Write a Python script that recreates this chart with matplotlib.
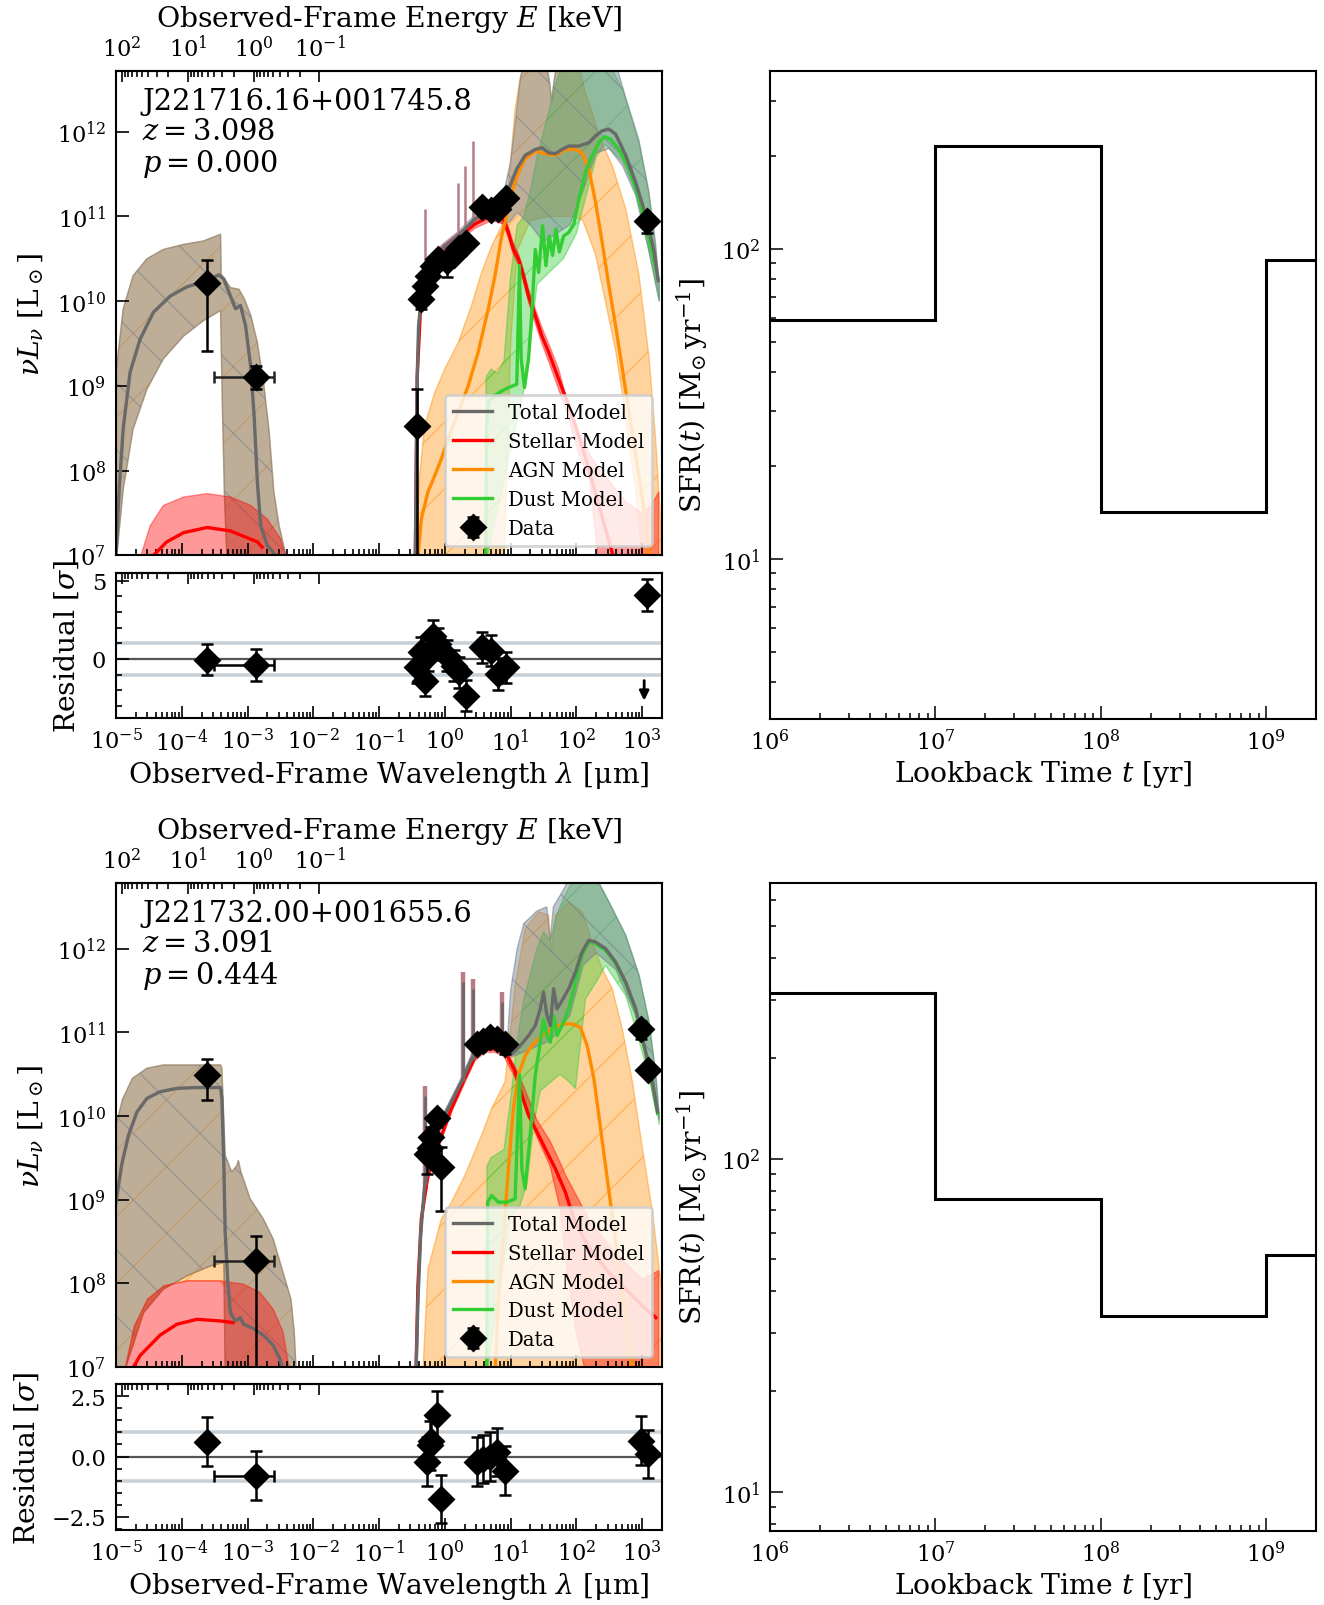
import numpy as np
import matplotlib
matplotlib.use("Agg")
import matplotlib.pyplot as plt
from matplotlib.ticker import LogLocator, MultipleLocator, NullFormatter, NullLocator

plt.rcParams["font.family"] = "DejaVu Serif"
plt.rcParams["mathtext.fontset"] = "dejavuserif"
plt.rcParams["hatch.linewidth"] = 0.45
plt.rcParams["axes.linewidth"] = 0.75

# all SED values are log10(wavelength / um) and log10(nuLnu / Lsun)

# ---------------- source 1 ----------------
NAME1, Z1, P1 = "J221716.16+001745.8", "3.098", "0.000"

S1_XR_TOT_LAM = [-5.0, -4.95, -4.89, -4.786, -4.634, -4.43, -4.176, -3.92, -3.615, -3.438, -3.36, -3.26,
                 -3.183, -3.107, -3.03, -2.954, -2.90, -2.85, -2.80, -2.70, -2.55]
S1_XR_TOT_L = [7.0, 7.8, 8.5, 9.16, 9.55, 9.87, 10.06, 10.17, 10.24, 10.31, 10.26, 10.06,
               9.91, 9.95, 9.71, 9.24, 8.65, 7.86, 7.35, 7.12, 6.98]
S1_XR_BAND_UP_LAM = [-5.0, -4.89, -4.74, -4.53, -4.28, -3.97, -3.67, -3.41, -3.40, -3.26, -3.13, -3.05,
                     -2.95, -2.85, -2.75, -2.67, -2.60, -2.52, -2.44, -2.37]
S1_XR_BAND_UP_L = [9.16, 9.91, 10.30, 10.50, 10.61, 10.67, 10.71, 10.79, 10.32, 10.16, 10.14, 10.03,
                   9.83, 9.51, 9.00, 8.45, 7.75, 7.35, 7.08, 6.90]
S1_XR_BAND_LO_LAM = [-2.37, -3.31, -3.35, -3.385, -3.41, -3.67, -3.97, -4.28, -4.53, -4.74, -4.89, -5.0]
S1_XR_BAND_LO_L = [6.90, 6.90, 7.67, 8.85, 9.89, 9.77, 9.59, 9.32, 8.96, 8.49, 7.78, 6.90]
S1_XR_STEL_LAM = [-4.50, -4.43, -4.23, -3.97, -3.615, -3.26, -2.85, -2.78]
S1_XR_STEL_L = [6.90, 7.00, 7.16, 7.27, 7.33, 7.29, 7.16, 7.10]
S1_XR_SBAND_UP_LAM = [-4.66, -4.48, -4.28, -3.97, -3.615, -3.26, -2.95, -2.70, -2.50, -2.39]
S1_XR_SBAND_UP_L = [6.90, 7.35, 7.59, 7.69, 7.73, 7.69, 7.59, 7.43, 7.20, 6.90]
S1_XR_SBAND_LO_LAM = [-2.39, -4.66]
S1_XR_SBAND_LO_L = [6.90, 6.90]

S1_TOT_LAM = [-0.45, -0.435, -0.42, -0.40, -0.369, -0.308, -0.206, -0.053, 0.202, 0.457, 0.711, 0.915,
              0.991, 1.093, 1.22, 1.374, 1.475, 1.577, 1.679, 1.781, 1.883, 2.036, 2.189, 2.29,
              2.392, 2.494, 2.596, 2.749, 2.902, 3.055, 3.182, 3.243]
S1_TOT_L = [6.90, 8.14, 9.12, 9.71, 9.95, 10.18, 10.42, 10.61, 10.77, 10.97, 11.09, 11.20,
            11.36, 11.56, 11.72, 11.79, 11.81, 11.75, 11.74, 11.79, 11.83, 11.83, 11.87, 11.95,
            12.01, 12.03, 11.97, 11.72, 11.40, 11.01, 10.58, 10.24]
S1_TBAND_UP_LAM = [-0.45, -0.435, -0.42, -0.40, -0.369, -0.308, -0.206, -0.053, 0.202, 0.457, 0.711, 0.90,
                   1.00, 1.10, 1.15, 1.20, 1.55, 1.60, 1.62, 1.66, 1.70, 2.60, 2.75, 2.95, 3.10, 3.20, 3.26]
S1_TBAND_UP_L = [6.90, 8.25, 9.22, 9.78, 10.00, 10.23, 10.47, 10.66, 10.82, 11.02, 11.14, 11.30,
                 11.65, 12.30, 12.65, 12.80, 12.80, 12.55, 12.35, 12.60, 12.80, 12.80, 12.40, 11.90, 11.30, 10.70, 10.20]
S1_TBAND_LO_LAM = [3.26, 3.10, 2.90, 2.70, 2.50, 2.30, 2.10, 1.90, 1.70, 1.50, 1.30, 1.10, 1.00, 0.90,
                   0.711, 0.457, 0.202, -0.053, -0.206, -0.308, -0.369, -0.40, -0.42, -0.435, -0.45]
S1_TBAND_LO_L = [10.00, 10.60, 11.25, 11.60, 11.80, 11.75, 11.30, 10.90, 10.80, 10.70, 10.90, 11.05, 10.95, 10.90,
                 11.03, 10.92, 10.72, 10.57, 10.37, 10.13, 9.90, 9.64, 9.02, 8.03, 6.90]
S1_STEL_LAM = [-0.45, -0.42, -0.369, -0.206, -0.053, 0.202, 0.457, 0.711, 0.89, 0.966, 1.042, 1.119,
               1.195, 1.272, 1.374, 1.475, 1.577, 1.73, 1.883, 2.036, 2.189, 2.341, 2.443, 2.571]
S1_STEL_L = [6.90, 9.12, 9.93, 10.40, 10.60, 10.75, 10.91, 11.01, 10.97, 10.81, 10.61, 10.50,
             10.30, 10.06, 9.83, 9.59, 9.40, 9.08, 8.77, 8.41, 8.02, 7.59, 7.31, 6.96]
S1_SBAND_UP_LAM = [-0.45, -0.42, -0.369, -0.206, -0.053, 0.202, 0.457, 0.711, 0.89, 0.966, 1.042, 1.119,
                   1.195, 1.272, 1.374, 1.475, 1.577, 1.73, 1.934, 2.24, 2.75, 3.00, 3.15, 3.25]
S1_SBAND_UP_L = [6.90, 9.20, 9.98, 10.45, 10.64, 10.80, 10.96, 11.06, 11.02, 10.87, 10.68, 10.56,
                 10.37, 10.14, 9.91, 9.69, 9.50, 9.20, 8.60, 8.14, 7.63, 7.50, 7.60, 7.75]
S1_SBAND_LO_LAM = [3.25, 2.34, 2.20, 2.036, 1.883, 1.73, 1.577, 1.475, 1.374, 1.272, 1.195, 1.119,
                   1.042, 0.966, 0.89, 0.711, 0.457, 0.202, -0.053, -0.206, -0.369, -0.42, -0.45]
S1_SBAND_LO_L = [6.90, 6.90, 7.90, 8.20, 8.62, 8.96, 9.29, 9.50, 9.74, 9.99, 10.23, 10.43,
                 10.55, 10.75, 10.91, 10.95, 10.86, 10.70, 10.55, 10.35, 9.88, 9.05, 6.90]
S1_AGN_LAM = [-0.42, -0.358, -0.257, -0.155, -0.053, 0.049, 0.202, 0.355, 0.507, 0.66, 0.762, 0.864,
              0.94, 1.017, 1.119, 1.22, 1.374, 1.526, 1.679, 1.832, 1.985, 2.087, 2.189, 2.29,
              2.392, 2.494, 2.596, 2.698, 2.80, 2.902, 3.004, 3.116]
S1_AGN_L = [6.90, 7.43, 7.75, 7.94, 8.14, 8.37, 8.69, 9.00, 9.40, 9.91, 10.30, 10.77,
            11.01, 11.28, 11.52, 11.68, 11.77, 11.74, 11.72, 11.79, 11.79, 11.75, 11.56, 11.17,
            10.69, 10.18, 9.71, 9.20, 8.69, 8.18, 7.67, 6.95]
S1_ABAND_UP_LAM = [-0.45, -0.42, -0.384, -0.308, -0.155, -0.002, 0.202, 0.406, 0.559, 0.711, 0.864, 0.966,
                   1.068, 1.144, 1.22, 1.55, 1.577, 1.618, 1.669, 1.70, 2.036, 2.138, 2.24, 2.34,
                   2.545, 2.749, 2.953, 3.106, 3.207, 3.284]
S1_ABAND_UP_L = [6.90, 7.35, 7.94, 8.53, 8.92, 9.20, 9.51, 9.95, 10.34, 10.65, 10.89, 11.36,
                 12.27, 12.62, 12.80, 12.80, 12.62, 12.38, 12.62, 12.80, 12.80, 12.46, 12.23, 11.95,
                 11.60, 11.09, 10.30, 9.32, 8.34, 7.35]
S1_ABAND_LO_LAM = [3.284, 3.00, 2.90, 2.80, 2.70, 2.60, 2.44, 2.29, 2.10, 1.95, 1.60, 1.30, 1.10, 1.00, 0.90, -0.45]
S1_ABAND_LO_L = [6.90, 6.90, 7.80, 8.30, 8.90, 9.40, 10.00, 10.55, 10.95, 11.00, 11.00, 10.95, 10.60, 9.50, 6.90, 6.90]
S1_DUST_LAM = [0.62, 0.635, 0.66, 0.762, 0.864, 0.966, 1.093, 1.134, 1.16, 1.21, 1.272, 1.323,
               1.374, 1.425, 1.486, 1.536, 1.587, 1.638, 1.689, 1.74, 1.806, 1.883, 1.96, 2.036,
               2.138, 2.24, 2.341, 2.428, 2.52, 2.647, 2.80, 2.953, 3.106, 3.243]
S1_DUST_L = [6.90, 8.53, 8.81, 8.89, 8.94, 8.98, 9.02, 10.42, 9.32, 8.98, 9.32, 9.87,
             10.61, 10.34, 10.89, 10.42, 10.77, 10.54, 10.85, 10.58, 10.77, 10.81, 10.91, 11.20,
             11.52, 11.72, 11.87, 11.94, 11.91, 11.79, 11.56, 11.20, 10.73, 10.26]
S1_DBAND_UP_LAM = [0.62, 0.625, 0.70, 0.80, 0.90, 1.00, 1.10, 1.20, 1.30, 1.40, 1.50, 1.60,
                   1.70, 1.80, 2.00, 2.30, 2.50, 2.70, 2.75, 2.95, 3.10, 3.20, 3.26]
S1_DBAND_UP_L = [6.90, 9.10, 9.20, 9.15, 9.30, 10.30, 10.90, 11.00, 11.30, 11.70, 12.00, 12.30,
                 12.60, 12.80, 12.80, 12.80, 12.80, 12.50, 12.38, 11.87, 11.28, 10.65, 10.14]
S1_DBAND_LO_LAM = [3.26, 3.10, 2.90, 2.70, 2.50, 2.43, 2.30, 2.10, 2.00, 1.80, 1.60, 1.40, 1.30, 1.15, 1.10, 0.62]
S1_DBAND_LO_L = [10.00, 10.60, 11.30, 11.65, 11.80, 11.85, 11.70, 11.10, 10.80, 10.50, 10.35, 10.20, 9.50, 8.70, 8.60, 6.90]
S1_SPK_LAM = [-0.308, 0.202, 0.304, 0.43]
S1_SPK_LO = [10.18, 10.77, 10.85, 10.95]
S1_SPK_HI = [11.09, 11.40, 11.60, 11.89]

S1_DAT_LAM = [-3.615, -2.867, -0.43, -0.366, -0.304, -0.252, -0.174, -0.098, 0.03, 0.134, 0.211, 0.314,
              0.571, 0.699, 0.803, 0.931, 3.08]
S1_DAT_L = [10.21, 9.11, 8.53, 10.03, 10.18, 10.30, 10.42, 10.50, 10.47, 10.54, 10.63, 10.69,
            11.11, 11.07, 11.09, 11.22, 10.95]
S1_DAT_LO = [9.41, 8.96, 6.00, 9.91, 10.13, 10.26, 10.38, 10.46, 10.28, 10.49, 10.60, 10.66,
             11.08, 11.04, 11.06, 11.20, 10.81]
S1_DAT_HI = [10.48, 9.24, 8.96, 10.07, 10.22, 10.34, 10.45, 10.53, 10.55, 10.58, 10.67, 10.73,
             11.13, 11.09, 11.11, 11.25, 11.00]
S1_RES = [-0.04, -0.38, -0.53, 0.43, -1.38, 0.20, 1.49, 0.96, 0.20, -0.43, -0.85, -2.34,
          0.74, 0.53, -0.96, -0.53, 4.09]
S1_XE_LAM, S1_XE_L, S1_XE_RES = [-2.867], [9.11], [-0.38]
S1_XE_LO, S1_XE_HI = [-3.514], [-2.60]
S1_ARROW_LAM, S1_ARROW_FROM, S1_ARROW_TO = [3.03], [-1.38], [-2.66]

# ---------------- source 2 ----------------
NAME2, Z2, P2 = "J221732.00+001655.6", "3.091", "0.444"

S2_XR_TOT_LAM = [-5.0, -4.915, -4.81, -4.68, -4.53, -4.33, -4.076, -3.77, -3.41, -3.39, -3.36, -3.34,
                 -3.30, -3.26, -3.185, -3.11, -3.06, -2.91, -2.76, -2.61, -2.51, -2.46]
S2_XR_TOT_L = [8.97, 9.41, 9.77, 10.05, 10.21, 10.29, 10.33, 10.34, 10.34, 10.21, 9.41, 8.61,
               8.01, 7.65, 7.55, 7.59, 7.51, 7.46, 7.38, 7.26, 7.10, 6.95]
S2_XR_BAND_UP_LAM = [-5.0, -4.90, -4.75, -4.53, -4.28, -3.97, -3.67, -3.41, -3.39, -3.34, -3.24, -3.16,
                     -3.14, -3.10, -2.96, -2.76, -2.61, -2.46, -2.34, -2.29, -2.26]
S2_XR_BAND_UP_L = [9.89, 10.20, 10.45, 10.57, 10.61, 10.61, 10.61, 10.61, 10.57, 9.53, 9.33, 9.41,
                   9.47, 9.33, 9.01, 8.77, 8.53, 8.13, 7.81, 7.42, 6.95]
S2_XR_BAND_LO_LAM = [-2.26, -3.34, -3.36, -3.56, -3.92, -4.28, -4.58, -4.87, -5.0]
S2_XR_BAND_LO_L = [6.90, 6.90, 8.25, 8.21, 8.09, 7.93, 7.65, 6.95, 6.90]
S2_XR_ABAND_UP_LAM = [-4.87, -4.58, -4.28, -3.92, -3.56, -3.36, -3.34]
S2_XR_ABAND_UP_L = [6.95, 7.65, 7.93, 8.09, 8.21, 8.25, 7.95]
S2_XR_ABAND_LO_LAM = [-3.41, -3.92, -4.27, -4.52, -4.72, -4.87]
S2_XR_ABAND_LO_L = [8.03, 8.03, 7.97, 7.81, 7.49, 6.95]
S2_XR_STEL_LAM = [-4.80, -4.75, -4.63, -4.33, -4.076, -3.77, -3.41, -3.22]
S2_XR_STEL_L = [6.90, 6.98, 7.14, 7.38, 7.51, 7.57, 7.55, 7.53]
S2_XR_SBAND_UP_LAM = [-4.87, -4.72, -4.52, -4.27, -3.92, -3.41, -3.06, -2.81, -2.61, -2.46, -2.36]
S2_XR_SBAND_UP_L = [6.95, 7.49, 7.81, 7.97, 8.03, 8.03, 7.99, 7.89, 7.69, 7.42, 6.95]
S2_XR_SBAND_LO_LAM = [-2.36, -4.87]
S2_XR_SBAND_LO_L = [6.90, 6.90]

S2_TOT_LAM = [-0.44, -0.41, -0.369, -0.308, -0.206, -0.053, 0.10, 0.253, 0.406, 0.558, 0.711, 0.864,
              1.017, 1.144, 1.272, 1.374, 1.45, 1.50, 1.552, 1.603, 1.654, 1.705, 1.781, 1.883,
              1.985, 2.087, 2.189, 2.29, 2.443, 2.596, 2.749, 2.902, 3.055, 3.157, 3.233]
S2_TOT_L = [6.90, 7.77, 8.57, 9.17, 9.57, 9.93, 10.17, 10.41, 10.68, 10.84, 10.88, 10.82,
            10.74, 10.84, 10.96, 11.08, 11.28, 11.48, 11.20, 11.08, 11.52, 11.28, 11.38, 11.52,
            11.72, 11.96, 12.10, 12.08, 12.00, 11.84, 11.60, 11.28, 10.76, 10.41, 10.05]
S2_TBAND_UP_LAM = [-0.44, -0.41, -0.369, -0.308, -0.206, -0.053, 0.10, 0.253, 0.406, 0.558, 0.711, 0.864,
                   0.95, 1.00, 1.10, 1.20, 1.40, 1.55, 1.60, 1.65, 1.80, 1.90, 2.30, 2.50,
                   2.749, 2.953, 3.106, 3.207, 3.258]
S2_TBAND_UP_L = [6.90, 7.85, 8.65, 9.25, 9.63, 9.98, 10.22, 10.46, 10.74, 10.90, 10.93, 10.88,
                 10.90, 11.50, 12.00, 12.30, 12.45, 12.50, 12.10, 12.50, 12.70, 12.85, 12.85, 12.55,
                 12.16, 11.68, 11.12, 10.49, 10.00]
S2_TBAND_LO_LAM = [3.258, 3.106, 2.90, 2.60, 2.30, 2.10, 1.90, 1.60, 1.30, 1.00, 0.864, 0.711,
                   0.558, 0.406, 0.253, 0.10, -0.053, -0.206, -0.308, -0.369, -0.41, -0.44]
S2_TBAND_LO_L = [9.95, 10.60, 11.20, 11.75, 11.95, 11.80, 11.20, 10.90, 10.80, 10.70, 10.77, 10.82,
                 10.79, 10.63, 10.35, 10.11, 9.87, 9.50, 9.09, 8.49, 7.69, 6.90]
S2_STEL_LAM = [-0.44, -0.41, -0.358, -0.257, -0.104, 0.10, 0.304, 0.457, 0.61, 0.762, 0.89, 0.94,
               1.068, 1.17, 1.272, 1.374, 1.526, 1.679, 1.832, 1.96, 2.087, 2.24, 2.494, 2.749, 3.004, 3.207]
S2_STEL_L = [6.90, 7.97, 8.77, 9.29, 9.65, 10.09, 10.45, 10.70, 10.80, 10.80, 10.77, 10.74,
             10.53, 10.25, 10.01, 9.85, 9.61, 9.37, 9.09, 8.77, 8.57, 8.37, 8.13, 7.93, 7.73, 7.59]
S2_SBAND_UP_LAM = [-0.44, -0.41, -0.358, -0.257, -0.104, 0.10, 0.304, 0.457, 0.61, 0.762, 0.89, 1.068,
                   1.20, 1.40, 1.60, 1.75, 1.83, 2.00, 2.20, 2.50, 2.80, 3.00, 3.25]
S2_SBAND_UP_L = [6.90, 8.05, 8.85, 9.35, 9.70, 10.13, 10.49, 10.75, 10.85, 10.85, 10.82, 10.59,
                 10.35, 9.95, 9.70, 9.45, 9.30, 9.05, 8.75, 8.45, 8.20, 8.05, 8.15]
S2_SBAND_LO_LAM = [3.25, 2.15, 2.00, 1.85, 1.75, 1.60, 1.40, 1.20, 1.068, 0.89, 0.762, 0.61,
                   0.457, 0.304, 0.10, -0.104, -0.257, -0.358, -0.41, -0.44]
S2_SBAND_LO_L = [6.90, 6.90, 7.40, 8.20, 8.90, 9.40, 9.75, 10.15, 10.46, 10.72, 10.76, 10.76,
                 10.66, 10.40, 10.04, 9.60, 9.23, 8.69, 7.90, 6.90]
S2_AGN_LAM = [0.762, 0.813, 0.89, 0.966, 1.042, 1.119, 1.22, 1.323, 1.475, 1.628, 1.781, 1.934,
              2.061, 2.163, 2.265, 2.367, 2.469, 2.571, 2.673, 2.749, 2.85]
S2_AGN_L = [6.90, 7.77, 8.57, 9.37, 10.09, 10.49, 10.72, 10.84, 10.96, 11.04, 11.10, 11.10,
            11.06, 10.84, 10.45, 9.85, 9.25, 8.65, 8.05, 7.65, 6.95]
S2_ABAND_UP_LAM = [-0.44, -0.333, -0.257, -0.053, 0.10, 0.304, 0.558, 0.711, 0.915, 0.99, 1.068, 1.22,
                   1.425, 1.577, 1.618, 1.679, 1.883, 2.087, 2.24, 2.392, 2.545, 2.698, 2.851, 3.004,
                   3.157, 3.258, 3.30]
S2_ABAND_UP_L = [6.90, 6.95, 8.17, 8.77, 8.97, 9.29, 9.77, 10.09, 10.41, 10.96, 11.56, 12.24,
                 12.44, 12.40, 11.96, 12.40, 12.56, 12.44, 12.08, 11.76, 11.52, 11.04, 10.41, 9.61,
                 8.85, 8.17, 7.90]
S2_ABAND_LO_LAM = [3.30, -0.44]
S2_ABAND_LO_L = [6.90, 6.90]
S2_DUST_LAM = [0.635, 0.65, 0.711, 0.813, 0.94, 1.068, 1.134, 1.17, 1.22, 1.297, 1.374, 1.45,
               1.50, 1.552, 1.603, 1.654, 1.705, 1.781, 1.883, 1.985, 2.087, 2.189, 2.29, 2.443,
               2.596, 2.749, 2.902, 3.055, 3.233]
S2_DUST_L = [6.90, 8.97, 9.05, 8.97, 8.97, 9.01, 10.49, 9.37, 9.13, 9.77, 10.49, 10.88,
             11.16, 10.96, 10.88, 11.20, 10.96, 11.08, 11.28, 11.60, 11.92, 12.08, 12.06, 11.98,
             11.82, 11.58, 11.26, 10.74, 10.03]
S2_DBAND_UP_LAM = [0.635, 0.64, 0.70, 0.80, 0.90, 1.00, 1.10, 1.20, 1.30, 1.40, 1.50, 1.60,
                   1.70, 1.80, 1.90, 2.00, 2.30, 2.50, 2.749, 2.953, 3.106, 3.207, 3.258]
S2_DBAND_UP_L = [6.90, 9.40, 9.50, 9.55, 9.60, 10.20, 10.90, 11.40, 11.70, 12.00, 12.20, 12.10,
                 12.40, 12.60, 12.75, 12.85, 12.85, 12.55, 12.16, 11.68, 11.12, 10.49, 10.00]
S2_DBAND_LO_LAM = [3.258, 3.207, 3.055, 2.90, 2.749, 2.443, 2.30, 2.138, 1.985, 1.90, 1.75, 1.60,
                   1.45, 1.35, 1.25, 1.13, 1.00, 0.635]
S2_DBAND_LO_L = [9.90, 10.20, 10.60, 11.05, 11.44, 11.80, 11.60, 11.40, 10.33, 10.40, 10.50, 10.40,
                 10.30, 9.90, 9.20, 8.90, 8.80, 6.90]
S2_SPK_LAM = [-0.308, 0.278, 0.431, 0.864]
S2_SPK_LO = [9.17, 10.42, 10.67, 10.82]
S2_SPK_HI = [10.36, 11.72, 11.64, 11.48]

S2_DAT_LAM = [-3.615, -2.867, -0.267, -0.23, -0.206, -0.114, -0.053, 0.482, 0.584, 0.686, 0.788, 0.915,
              2.978, 3.09]
S2_DAT_L = [10.49, 8.27, 9.55, 9.62, 9.75, 9.97, 9.39, 10.86, 10.90, 10.94, 10.92, 10.86, 11.04, 10.55]
S2_DAT_LO = [10.19, 6.00, 9.31, 9.50, 9.60, 9.87, 8.87, 10.82, 10.86, 10.90, 10.88, 10.74, 10.92, 10.50]
S2_DAT_HI = [10.68, 8.57, 9.77, 9.74, 9.87, 10.05, 9.63, 10.90, 10.94, 10.98, 10.96, 10.90, 11.14, 10.59]
S2_RES = [0.62, -0.79, -0.21, 0.46, 0.66, 1.70, -1.75, -0.21, -0.10, 0.00, 0.18, -0.58, 0.66, 0.11]
S2_XE_LAM, S2_XE_L, S2_XE_RES = [-2.867], [8.27], [-0.79]
S2_XE_LO, S2_XE_HI = [-3.515], [-2.60]

# ---------------- star formation histories ----------------
SFR_EDGES = [1e6, 1e7, 1e8, 1e9, 2e9]
SFR1 = [58.9, 215.0, 14.2, 92.1]
SFR2 = [315.0, 75.7, 33.7, 51.3]
SFR1_YLIM = (3.05, 375.0)
SFR2_YLIM = (7.62, 673.0)
SED1_YLIM = (1e7, 5.2e12)
SED2_YLIM = (1e7, 6.1e12)

TICK_FS = 8.1
LABEL_FS = 10.2
NAME_FS = 10.4
LEG_FS = 7.1

TOT_C, STEL_C, AGN_C, DUST_C = "dimgray", "red", "darkorange", "limegreen"
TOT_FACE, TOT_EDGE = (0.44, 0.50, 0.56, 0.45), (0.44, 0.50, 0.56, 0.55)
AGN_FACE, AGN_EDGE = (1.0, 0.55, 0.0, 0.38), (1.0, 0.55, 0.0, 0.45)
DUST_FACE, DUST_EDGE = (0.2, 0.8, 0.2, 0.40), (0.2, 0.8, 0.2, 0.45)
STEL_FACE, STEL_EDGE = (1.0, 0.0, 0.0, 0.40), (1.0, 0.0, 0.0, 0.40)


def p10(a):
    return np.power(10.0, np.asarray(a, dtype=float))


def lam_to_kev(x):
    x = np.asarray(x, dtype=float)
    with np.errstate(divide="ignore"):
        return 1.23984e-3 / x


def band(ax, up_lam, up_l, lo_lam, lo_l, face, edge, hatch, z):
    x = p10(list(up_lam) + list(lo_lam))
    y = p10(list(up_l) + list(lo_l))
    ax.fill(x, y, facecolor=face, edgecolor=edge, hatch=hatch, linewidth=0.5, zorder=z)


def curve(ax, lam, l, color, z, label=None):
    line, = ax.plot(p10(lam), p10(l), color=color, lw=1.2, zorder=z, label=label)
    return line


def energy_axis(ax, labels):
    sec = ax.secondary_xaxis("top", functions=(lam_to_kev, lam_to_kev))
    sec.set_xticks([1e2, 1e1, 1e0, 1e-1])
    sec.set_xticks([k * 10.0 ** d for d in (-1, 0, 1) for k in range(2, 10)], minor=True)
    sec.xaxis.set_minor_formatter(NullFormatter())
    sec.tick_params(which="both", direction="in", labelsize=TICK_FS, labeltop=labels, width=0.6)
    sec.tick_params(which="major", length=4.0)
    sec.tick_params(which="minor", length=2.2)
    if labels:
        sec.set_xlabel("Observed-Frame Energy $E$ [keV]", fontsize=LABEL_FS, labelpad=3)
    return sec


def log_x(ax):
    ax.set_xscale("log")
    ax.set_xlim(1e-5, 2e3)
    ax.xaxis.set_major_locator(LogLocator(base=10, numticks=20))
    ax.xaxis.set_minor_locator(LogLocator(base=10, subs=np.arange(2, 10), numticks=20))
    ax.xaxis.set_minor_formatter(NullFormatter())


def draw_sed(ax, d, ylim, name, z, p):
    log_x(ax)
    ax.set_yscale("log")
    ax.set_ylim(*ylim)
    ax.yaxis.set_major_locator(LogLocator(base=10, numticks=20))
    ax.yaxis.set_minor_locator(NullLocator())
    ax.tick_params(which="both", direction="in", top=False, right=False, labelbottom=False,
                   labelsize=TICK_FS, width=0.6)
    ax.tick_params(which="major", length=4.5)
    ax.tick_params(which="minor", length=2.3)

    # X-ray part: AGN under the total band gives the tan colour
    band(ax, *d["xr_band"], AGN_FACE, AGN_EDGE, "/", 1.0)
    band(ax, *d["xr_band"], TOT_FACE, TOT_EDGE, "\\", 1.15)
    if "xr_aband" in d:
        band(ax, *d["xr_aband"], AGN_FACE, AGN_EDGE, "/", 1.0)
    band(ax, *d["xr_sband"], STEL_FACE, STEL_EDGE, None, 1.3)
    curve(ax, *d["xr_stel"], STEL_C, 2.1)
    curve(ax, *d["xr_tot"], TOT_C, 2.5)

    # UV to radio part
    band(ax, *d["aband"], AGN_FACE, AGN_EDGE, "/", 1.0)
    band(ax, *d["dband"], DUST_FACE, DUST_EDGE, "/", 1.05)
    band(ax, *d["tband"], TOT_FACE, TOT_EDGE, "\\", 1.15)
    band(ax, *d["sband"], STEL_FACE, STEL_EDGE, None, 1.3)
    spk_lam, spk_lo, spk_hi, spk_gray = d["spikes"]
    ax.vlines(p10(spk_lam), p10(spk_lo), p10(spk_hi), color="#b77c84", lw=1.6 if spk_gray else 0.9, zorder=2.35)
    if spk_gray:
        ax.vlines(p10(spk_lam), p10(spk_lo), p10(np.asarray(spk_hi) - 0.12), color=TOT_C, lw=1.0, zorder=2.4)
    h_st = curve(ax, *d["stel"], STEL_C, 2.1)
    h_agn = curve(ax, *d["agn"], AGN_C, 2.2)
    h_dust = curve(ax, *d["dust"], DUST_C, 2.3)
    h_tot = curve(ax, *d["tot"], TOT_C, 2.5)

    lam, l, lo, hi = (np.asarray(v, dtype=float) for v in d["data"])
    h_dat = ax.errorbar(p10(lam), p10(l), yerr=[p10(l) - p10(lo), p10(hi) - p10(l)], fmt="D", color="k",
                        ms=6, capsize=2.3, elinewidth=0.9, capthick=0.9, zorder=4)
    xl, xy, xlo, xhi = (np.asarray(v, dtype=float) for v in d["xerr"])
    ax.errorbar(p10(xl), p10(xy), xerr=[p10(xl) - p10(xlo), p10(xhi) - p10(xl)], fmt="none",
                ecolor="#222222", capsize=2.3, elinewidth=0.9, capthick=0.9, zorder=4)

    ax.set_ylabel(r"$\nu L_\nu$ [L$_\odot$]", fontsize=LABEL_FS)
    ax.text(0.048, 0.9216, name, transform=ax.transAxes, fontsize=NAME_FS, va="baseline")
    ax.text(0.048, 0.8597, "$z = %s$" % z, transform=ax.transAxes, fontsize=NAME_FS, va="baseline")
    ax.text(0.048, 0.7936, "$p = %s$" % p, transform=ax.transAxes, fontsize=NAME_FS, va="baseline")
    leg = ax.legend([h_tot, h_st, h_agn, h_dust, h_dat],
                    ["Total Model", "Stellar Model", "AGN Model", "Dust Model", "Data"],
                    loc="lower right", fontsize=LEG_FS, framealpha=0.8)
    leg.set_zorder(10)
    energy_axis(ax, True)


def draw_res(ax, d, ylim, major, minor, arrow=None):
    log_x(ax)
    ax.set_ylim(*ylim)
    ax.yaxis.set_major_locator(MultipleLocator(major))
    ax.yaxis.set_minor_locator(MultipleLocator(minor))
    ax.tick_params(which="both", direction="in", top=False, right=False, labelsize=TICK_FS, width=0.6)
    ax.tick_params(which="major", length=4.5)
    ax.tick_params(which="minor", length=2.3)
    ax.axhline(1, color="#c8d0d8", lw=1.3, zorder=1)
    ax.axhline(-1, color="#c8d0d8", lw=1.3, zorder=1)
    ax.axhline(0, color="#555555", lw=0.8, zorder=1.1)
    lam = np.asarray(d["data"][0], dtype=float)
    ax.errorbar(p10(lam), d["res"], yerr=1.0, fmt="D", color="k", ms=6, capsize=2.3,
                elinewidth=0.9, capthick=0.9, zorder=4)
    xl, _, xlo, xhi = (np.asarray(v, dtype=float) for v in d["xerr"])
    ax.errorbar(p10(xl), d["xres"], xerr=[p10(xl) - p10(xlo), p10(xhi) - p10(xl)], fmt="none",
                ecolor="k", capsize=2.3, elinewidth=0.9, capthick=0.9, zorder=4)
    if arrow is not None:
        for a_lam, a_from, a_to in zip(*arrow):
            ax.annotate("", xy=(10 ** a_lam, a_to), xytext=(10 ** a_lam, a_from),
                        arrowprops=dict(arrowstyle="-|>", color="k", lw=1.0, mutation_scale=7,
                                        shrinkA=0, shrinkB=0))
    ax.set_ylabel(r"Residual [$\sigma$]", fontsize=LABEL_FS)
    ax.set_xlabel(r"Observed-Frame Wavelength $\lambda$ [μm]", fontsize=LABEL_FS, labelpad=1.5)
    energy_axis(ax, False)


def draw_sfr(ax, values, ylim):
    ax.stairs(values, SFR_EDGES, color="k", lw=1.1, baseline=None)
    ax.set_xscale("log")
    ax.set_yscale("log")
    ax.set_xlim(SFR_EDGES[0], SFR_EDGES[-1])
    ax.set_ylim(*ylim)
    ax.yaxis.set_minor_formatter(NullFormatter())
    ax.tick_params(which="both", direction="in", top=False, right=False, labelsize=TICK_FS, width=0.55)
    ax.tick_params(which="major", length=4.7)
    ax.tick_params(which="minor", length=2.3)
    ax.set_xlabel("Lookback Time $t$ [yr]", fontsize=LABEL_FS, labelpad=1.5)
    ax.set_ylabel(r"SFR($t$) [M$_{\odot}\,$yr$^{-1}$]", fontsize=LABEL_FS)


def main():
    s1 = {
        "xr_tot": (S1_XR_TOT_LAM, S1_XR_TOT_L),
        "xr_band": (S1_XR_BAND_UP_LAM, S1_XR_BAND_UP_L, S1_XR_BAND_LO_LAM, S1_XR_BAND_LO_L),
        "xr_stel": (S1_XR_STEL_LAM, S1_XR_STEL_L),
        "xr_sband": (S1_XR_SBAND_UP_LAM, S1_XR_SBAND_UP_L, S1_XR_SBAND_LO_LAM, S1_XR_SBAND_LO_L),
        "tot": (S1_TOT_LAM, S1_TOT_L),
        "tband": (S1_TBAND_UP_LAM, S1_TBAND_UP_L, S1_TBAND_LO_LAM, S1_TBAND_LO_L),
        "stel": (S1_STEL_LAM, S1_STEL_L),
        "sband": (S1_SBAND_UP_LAM, S1_SBAND_UP_L, S1_SBAND_LO_LAM, S1_SBAND_LO_L),
        "agn": (S1_AGN_LAM, S1_AGN_L),
        "aband": (S1_ABAND_UP_LAM, S1_ABAND_UP_L, S1_ABAND_LO_LAM, S1_ABAND_LO_L),
        "dust": (S1_DUST_LAM, S1_DUST_L),
        "dband": (S1_DBAND_UP_LAM, S1_DBAND_UP_L, S1_DBAND_LO_LAM, S1_DBAND_LO_L),
        "spikes": (S1_SPK_LAM, S1_SPK_LO, S1_SPK_HI, False),
        "data": (S1_DAT_LAM, S1_DAT_L, S1_DAT_LO, S1_DAT_HI),
        "xerr": (S1_XE_LAM, S1_XE_L, S1_XE_LO, S1_XE_HI),
        "res": S1_RES,
        "xres": S1_XE_RES,
    }
    s2 = {
        "xr_tot": (S2_XR_TOT_LAM, S2_XR_TOT_L),
        "xr_band": (S2_XR_BAND_UP_LAM, S2_XR_BAND_UP_L, S2_XR_BAND_LO_LAM, S2_XR_BAND_LO_L),
        "xr_aband": (S2_XR_ABAND_UP_LAM, S2_XR_ABAND_UP_L, S2_XR_ABAND_LO_LAM, S2_XR_ABAND_LO_L),
        "xr_stel": (S2_XR_STEL_LAM, S2_XR_STEL_L),
        "xr_sband": (S2_XR_SBAND_UP_LAM, S2_XR_SBAND_UP_L, S2_XR_SBAND_LO_LAM, S2_XR_SBAND_LO_L),
        "tot": (S2_TOT_LAM, S2_TOT_L),
        "tband": (S2_TBAND_UP_LAM, S2_TBAND_UP_L, S2_TBAND_LO_LAM, S2_TBAND_LO_L),
        "stel": (S2_STEL_LAM, S2_STEL_L),
        "sband": (S2_SBAND_UP_LAM, S2_SBAND_UP_L, S2_SBAND_LO_LAM, S2_SBAND_LO_L),
        "agn": (S2_AGN_LAM, S2_AGN_L),
        "aband": (S2_ABAND_UP_LAM, S2_ABAND_UP_L, S2_ABAND_LO_LAM, S2_ABAND_LO_L),
        "dust": (S2_DUST_LAM, S2_DUST_L),
        "dband": (S2_DBAND_UP_LAM, S2_DBAND_UP_L, S2_DBAND_LO_LAM, S2_DBAND_LO_L),
        "spikes": (S2_SPK_LAM, S2_SPK_LO, S2_SPK_HI, True),
        "data": (S2_DAT_LAM, S2_DAT_L, S2_DAT_LO, S2_DAT_HI),
        "xerr": (S2_XE_LAM, S2_XE_L, S2_XE_LO, S2_XE_HI),
        "res": S2_RES,
        "xres": S2_XE_RES,
    }

    fig = plt.figure(figsize=(6.62, 8.03), dpi=200)
    ax_sed1 = fig.add_axes([0.0876, 0.6535, 0.4124, 0.3017])
    ax_res1 = fig.add_axes([0.0876, 0.5521, 0.4124, 0.0905])
    ax_sfr1 = fig.add_axes([0.5816, 0.5517, 0.4124, 0.4035])
    ax_sed2 = fig.add_axes([0.0876, 0.1482, 0.4124, 0.3014])
    ax_res2 = fig.add_axes([0.0876, 0.0467, 0.4124, 0.0909])
    ax_sfr2 = fig.add_axes([0.5816, 0.0461, 0.4124, 0.4035])

    draw_sed(ax_sed1, s1, SED1_YLIM, NAME1, Z1, P1)
    draw_res(ax_res1, s1, (-3.79, 5.49), 5, 1, (S1_ARROW_LAM, S1_ARROW_FROM, S1_ARROW_TO))
    draw_sfr(ax_sfr1, SFR1, SFR1_YLIM)
    draw_sed(ax_sed2, s2, SED2_YLIM, NAME2, Z2, P2)
    draw_res(ax_res2, s2, (-3.04, 3.0), 2.5, 0.5)
    draw_sfr(ax_sfr2, SFR2, SFR2_YLIM)

    fig.savefig("out.png", dpi=200)


if __name__ == "__main__":
    main()
